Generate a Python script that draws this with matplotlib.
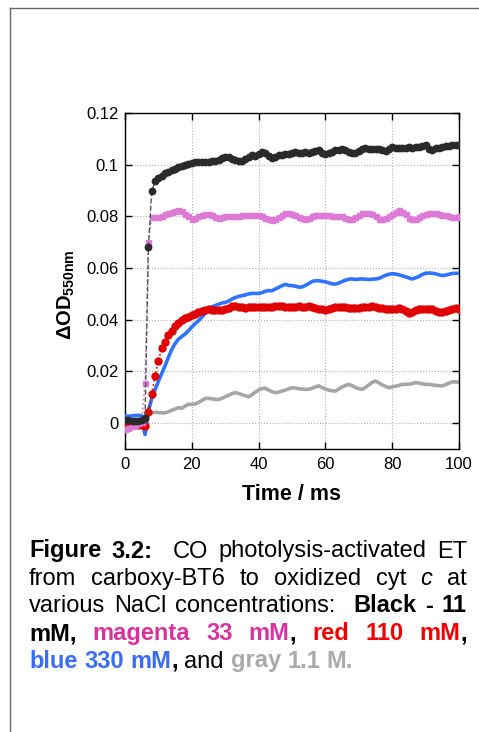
import matplotlib
matplotlib.use("Agg")
import matplotlib.pyplot as plt
from matplotlib.lines import Line2D
from matplotlib.ticker import FuncFormatter, MultipleLocator

plt.rcParams['font.family'] = ['Liberation Sans', 'DejaVu Sans']
plt.rcParams['mathtext.fontset'] = 'custom'
plt.rcParams['mathtext.rm'] = 'Liberation Sans'
plt.rcParams['mathtext.bf'] = 'Liberation Sans:bold'

# time axis, ms
time_ms = list(range(0, 101))

# delta OD 550 nm for each NaCl concentration
black_11mM = [
    0.0012, 0.0014, 0.0010, 0.0008, 0.0010, 0.0012, 0.0020, 0.0680, 0.0898, 0.0935,
    0.0950, 0.0958, 0.0966, 0.0972, 0.0978, 0.0985, 0.0990, 0.0995, 0.1000, 0.1003,
    0.1007, 0.1010, 0.1011, 0.1009, 0.1012, 0.1011, 0.1013, 0.1014, 0.1020, 0.1026,
    0.1030, 0.1028, 0.1022, 0.1017, 0.1014, 0.1015, 0.1022, 0.1030, 0.1037, 0.1033,
    0.1042, 0.1050, 0.1044, 0.1032, 0.1024, 0.1030, 0.1036, 0.1038, 0.1042, 0.1043,
    0.1046, 0.1048, 0.1045, 0.1047, 0.1049, 0.1047, 0.1050, 0.1054, 0.1056, 0.1046,
    0.1040, 0.1044, 0.1050, 0.1055, 0.1058, 0.1059, 0.1056, 0.1050, 0.1047, 0.1047,
    0.1054, 0.1060, 0.1063, 0.1062, 0.1061, 0.1062, 0.1060, 0.1057, 0.1054, 0.1062,
    0.1069, 0.1065, 0.1064, 0.1063, 0.1066, 0.1067, 0.1066, 0.1068, 0.1070, 0.1072,
    0.1076, 0.1060, 0.1057, 0.1063, 0.1066, 0.1069, 0.1071, 0.1074, 0.1075, 0.1077,
    0.1078]

magenta_33mM = [
    -0.0022, -0.0018, -0.0012, -0.0006, 0.0000, 0.0004, 0.0157, 0.0700, 0.0797, 0.0798,
    0.0797, 0.0802, 0.0808, 0.0812, 0.0816, 0.0820, 0.0823, 0.0820, 0.0810, 0.0800,
    0.0790, 0.0795, 0.0802, 0.0806, 0.0810, 0.0810, 0.0805, 0.0798, 0.0795, 0.0796,
    0.0800, 0.0801, 0.0802, 0.0800, 0.0803, 0.0804, 0.0805, 0.0806, 0.0806, 0.0806,
    0.0805, 0.0800, 0.0793, 0.0788, 0.0787, 0.0790, 0.0797, 0.0806, 0.0812, 0.0814,
    0.0810, 0.0805, 0.0798, 0.0792, 0.0791, 0.0795, 0.0800, 0.0804, 0.0806, 0.0807,
    0.0806, 0.0804, 0.0802, 0.0801, 0.0802, 0.0800, 0.0795, 0.0791, 0.0791, 0.0798,
    0.0806, 0.0812, 0.0814, 0.0812, 0.0808, 0.0800, 0.0790, 0.0788, 0.0795, 0.0802,
    0.0810, 0.0818, 0.0823, 0.0818, 0.0808, 0.0795, 0.0788, 0.0788, 0.0796, 0.0805,
    0.0810, 0.0813, 0.0814, 0.0812, 0.0808, 0.0805, 0.0804, 0.0801, 0.0798, 0.0799,
    0.0800]

red_110mM = [
    0.0002, -0.0003, -0.0005, -0.0005, -0.0006, -0.0006, -0.0012, 0.0045, 0.0111, 0.0183,
    0.0241, 0.0290, 0.0315, 0.0340, 0.0357, 0.0375, 0.0388, 0.0398, 0.0406, 0.0412,
    0.0418, 0.0424, 0.0429, 0.0433, 0.0438, 0.0442, 0.0438, 0.0436, 0.0436, 0.0437,
    0.0440, 0.0446, 0.0452, 0.0454, 0.0451, 0.0449, 0.0447, 0.0448, 0.0449, 0.0448,
    0.0448, 0.0450, 0.0451, 0.0449, 0.0451, 0.0452, 0.0454, 0.0452, 0.0450, 0.0449,
    0.0449, 0.0451, 0.0452, 0.0450, 0.0451, 0.0452, 0.0449, 0.0446, 0.0443, 0.0440,
    0.0438, 0.0441, 0.0446, 0.0448, 0.0450, 0.0451, 0.0449, 0.0447, 0.0445, 0.0444,
    0.0446, 0.0448, 0.0449, 0.0450, 0.0452, 0.0450, 0.0447, 0.0444, 0.0442, 0.0441,
    0.0440, 0.0443, 0.0444, 0.0440, 0.0432, 0.0426, 0.0430, 0.0437, 0.0440, 0.0441,
    0.0443, 0.0442, 0.0440, 0.0434, 0.0430, 0.0431, 0.0435, 0.0438, 0.0442, 0.0444,
    0.0442]

blue_330mM = [
    0.0027, 0.0027, 0.0028, 0.0030, 0.0030, 0.0028, -0.0044, 0.0047, 0.0095, 0.0130,
    0.0162, 0.0192, 0.0222, 0.0255, 0.0285, 0.0308, 0.0325, 0.0335, 0.0345, 0.0358,
    0.0372, 0.0385, 0.0396, 0.0410, 0.0425, 0.0438, 0.0450, 0.0455, 0.0460, 0.0465,
    0.0467, 0.0472, 0.0480, 0.0486, 0.0490, 0.0493, 0.0496, 0.0500, 0.0502, 0.0502,
    0.0502, 0.0505, 0.0510, 0.0513, 0.0512, 0.0519, 0.0525, 0.0532, 0.0537, 0.0533,
    0.0532, 0.0530, 0.0526, 0.0527, 0.0533, 0.0540, 0.0548, 0.0551, 0.0551, 0.0549,
    0.0547, 0.0543, 0.0539, 0.0538, 0.0542, 0.0548, 0.0553, 0.0557, 0.0558, 0.0556,
    0.0557, 0.0558, 0.0557, 0.0556, 0.0557, 0.0558, 0.0560, 0.0566, 0.0572, 0.0576,
    0.0578, 0.0577, 0.0574, 0.0570, 0.0566, 0.0562, 0.0558, 0.0562, 0.0568, 0.0575,
    0.0580, 0.0581, 0.0580, 0.0578, 0.0574, 0.0571, 0.0573, 0.0576, 0.0579, 0.0580,
    0.0580]

gray_1100mM = [
    0.0008, 0.0008, 0.0009, 0.0010, 0.0008, 0.0010, -0.0042, 0.0034, 0.0040, 0.0042,
    0.0041, 0.0040, 0.0040, 0.0044, 0.0050, 0.0055, 0.0060, 0.0058, 0.0066, 0.0073,
    0.0073, 0.0074, 0.0080, 0.0088, 0.0095, 0.0096, 0.0094, 0.0092, 0.0092, 0.0096,
    0.0102, 0.0108, 0.0114, 0.0118, 0.0115, 0.0110, 0.0106, 0.0102, 0.0110, 0.0120,
    0.0128, 0.0134, 0.0135, 0.0128, 0.0122, 0.0118, 0.0120, 0.0124, 0.0128, 0.0133,
    0.0137, 0.0136, 0.0133, 0.0132, 0.0131, 0.0131, 0.0135, 0.0140, 0.0144, 0.0138,
    0.0132, 0.0128, 0.0125, 0.0124, 0.0132, 0.0140, 0.0146, 0.0150, 0.0145, 0.0138,
    0.0133, 0.0131, 0.0138, 0.0148, 0.0158, 0.0163, 0.0156, 0.0148, 0.0142, 0.0137,
    0.0140, 0.0143, 0.0146, 0.0150, 0.0150, 0.0151, 0.0153, 0.0157, 0.0155, 0.0152,
    0.0150, 0.0150, 0.0148, 0.0146, 0.0145, 0.0144, 0.0149, 0.0155, 0.0160, 0.0160,
    0.0158]

# caption: each line is a list of words, each word a list of (text, color, weight, style)
# an empty word adds one extra gap
K, MAG, RED, BLU, GRY = '#000000', '#d6339f', '#f00000', '#3a6cf5', '#aaaaaa'
caption_lines = [
    [[("Figure", K, 'bold', 'normal')], [("3.2:", K, 'bold', 'normal')], [],
     [("CO", K, 'normal', 'normal')], [("photolysis-activated", K, 'normal', 'normal')],
     [("ET", K, 'normal', 'normal')]],
    [[("from", K, 'normal', 'normal')], [("carboxy-BT6", K, 'normal', 'normal')],
     [("to", K, 'normal', 'normal')], [("oxidized", K, 'normal', 'normal')],
     [("cyt", K, 'normal', 'normal')], [("c", K, 'normal', 'italic')],
     [("at", K, 'normal', 'normal')]],
    [[("various", K, 'normal', 'normal')], [("NaCl", K, 'normal', 'normal')],
     [("concentrations:", K, 'normal', 'normal')], [],
     [("Black", K, 'bold', 'normal')], [("-", K, 'bold', 'normal')],
     [("11", K, 'bold', 'normal')]],
    [[("mM,", K, 'bold', 'normal')], [("magenta", MAG, 'bold', 'normal')],
     [("33", MAG, 'bold', 'normal')], [("mM", MAG, 'bold', 'normal'), (",", K, 'bold', 'normal')],
     [("red", RED, 'bold', 'normal')], [("110", RED, 'bold', 'normal')],
     [("mM", RED, 'bold', 'normal'), (",", K, 'bold', 'normal')]],
    [[("blue", BLU, 'bold', 'normal')], [("330", BLU, 'bold', 'normal')],
     [("mM", BLU, 'bold', 'normal'), (",", K, 'bold', 'normal')],
     [("and", K, 'normal', 'normal')], [("gray", GRY, 'bold', 'normal')],
     [("1.1", GRY, 'bold', 'normal')], [("M.", GRY, 'bold', 'normal')]],
]

W, H = 479, 732
fig = plt.figure(figsize=(W / 100, H / 100), dpi=100)
ax = fig.add_axes([125 / W, 1 - 449 / H, 334 / W, 336 / H])

ax.plot(time_ms, gray_1100mM, color='#a6a6a6', lw=2.6, zorder=2)
ax.plot(time_ms, blue_330mM, color='#2f73ff', lw=2.6, zorder=3)
ax.plot(time_ms, red_110mM, color='#e00000', lw=1.2, ls=':', marker='o',
        ms=5, mec='#e00000', mfc='#e00000', zorder=4)
ax.plot(time_ms, magenta_33mM, color='#c77fc4', lw=1.2, ls=':', marker='s',
        ms=3.6, mec='#dc7ad6', mfc='#dc7ad6', zorder=5)
ax.plot(time_ms, black_11mM, color='#555555', lw=1.0, ls='--', marker='o',
        ms=4.6, mec='#2a2a2a', mfc='#2a2a2a', zorder=6)

ax.set_xlim(0, 100)
ax.set_ylim(-0.01, 0.12)
ax.xaxis.set_major_locator(MultipleLocator(20))
ax.set_yticks([0, 0.02, 0.04, 0.06, 0.08, 0.1, 0.12])
ax.yaxis.set_major_formatter(FuncFormatter(lambda v, p: '%g' % round(v, 4)))
ax.tick_params(direction='in', top=True, right=True, length=5, width=1,
               labelsize=12, pad=4.5)
ax.tick_params(axis='x', pad=6)
ax.grid(True, linestyle=':', color='#b0b0b0', lw=0.8)
for s in ax.spines.values():
    s.set_linewidth(1.0)

ax.set_xlabel('Time / ms', fontsize=15.5, fontweight='bold', va='baseline')
ax.xaxis.set_label_coords(0.5, -0.152)
ax.set_ylabel(r'$\mathbf{\Delta OD_{550nm}}$', fontsize=14.5)
ax.yaxis.set_label_coords(-0.145, 0.458)

# page border
fig.add_artist(Line2D([10 / W, 1], [1 - 8 / H, 1 - 8 / H], color='#666666', lw=1.0))
fig.add_artist(Line2D([10 / W, 10 / W], [0, 1 - 8 / H], color='#666666', lw=1.0))

# justified caption
renderer = fig.canvas.get_renderer()
fs = 17
left_px, right_px = 29, 467
baselines = [557.5, 585, 612.5, 640, 667.5]


def piece_width(text, weight, style):
    t = fig.text(0, 0, text, fontsize=fs, fontweight=weight, fontstyle=style)
    w = t.get_window_extent(renderer).width
    t.remove()
    return w


space_w = piece_width('a a', 'normal', 'normal') - piece_width('aa', 'normal', 'normal')

for i, words in enumerate(caption_lines):
    widths = [[piece_width(p[0], p[2], p[3]) for p in wd] for wd in words]
    total = sum(sum(w) for w in widths)
    gaps = len(words) - 1
    if i < len(caption_lines) - 1:
        gap = (right_px - left_px - total) / gaps
    else:
        gap = space_w
    x = left_px
    y = 1 - baselines[i] / H
    for wd, ws in zip(words, widths):
        for (text, color, weight, style), w in zip(wd, ws):
            fig.text(x / W, y, text, fontsize=fs, fontweight=weight, fontstyle=style,
                     color=color, va='baseline', ha='left')
            x += w
        x += gap

fig.savefig('out.png', dpi=100)
